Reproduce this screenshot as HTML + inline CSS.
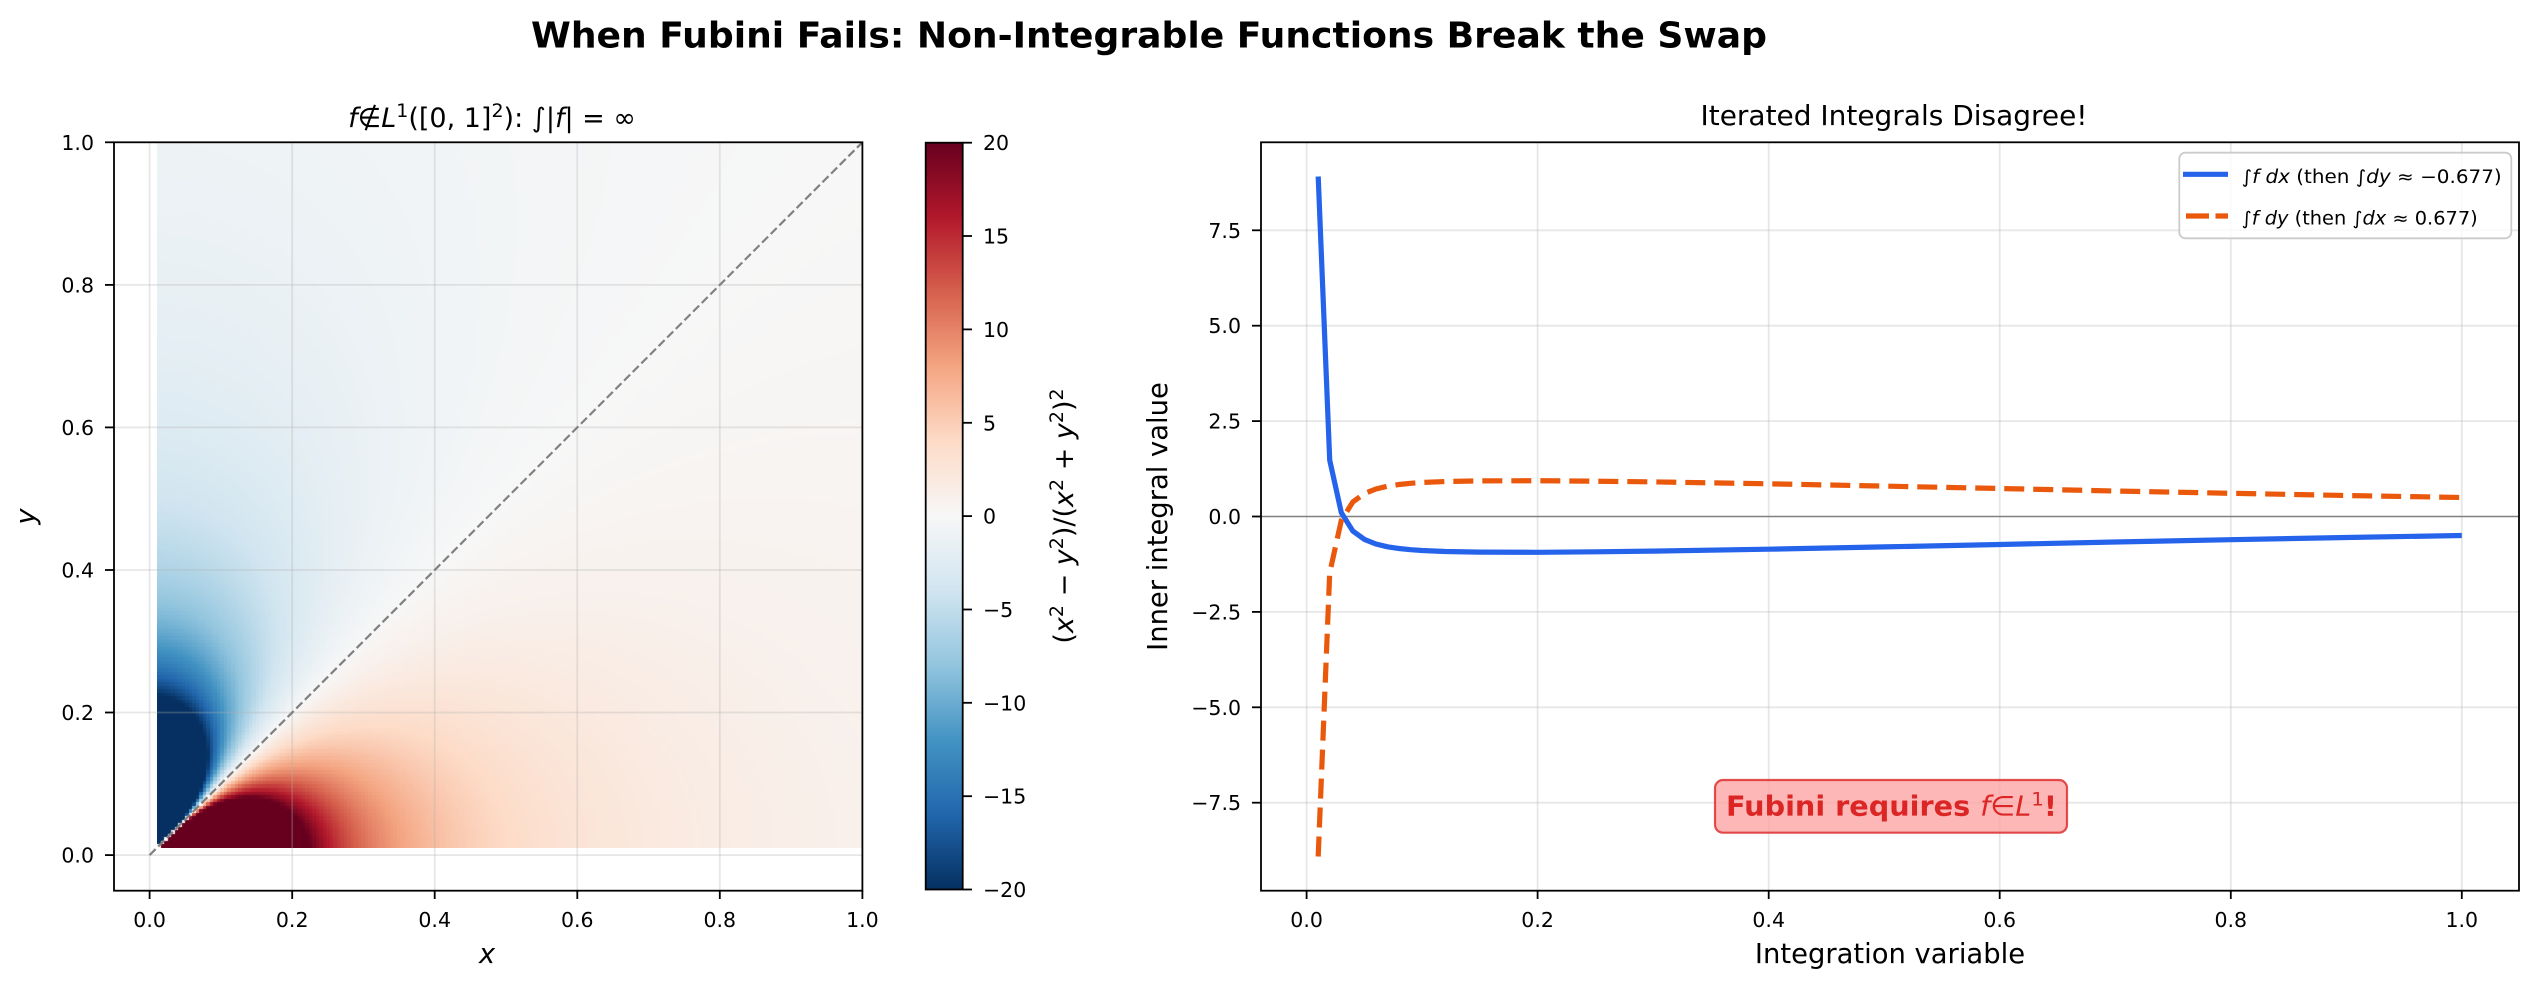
<!DOCTYPE html>
<html>
<head>
<meta charset="utf-8">
<style>
  html,body{margin:0;padding:0;background:#fff;}
  #wrap{position:relative;width:2540px;height:990px;overflow:hidden;background:#fff;}
  #hm{position:absolute;left:157px;top:142px;width:705px;height:706px;}
  svg{position:absolute;left:0;top:0;}
  text{font-family:"DejaVu Sans","Liberation Sans",sans-serif;fill:#000;}
</style>
</head>
<body>
<div id="wrap">
<canvas id="hm" width="705" height="706"></canvas>
<svg width="2540" height="990" viewBox="0 0 2540 990" xmlns="http://www.w3.org/2000/svg">
  <defs>
    <linearGradient id="cb" x1="0" y1="0" x2="0" y2="1">
      <stop offset="0" stop-color="#67001f"/>
      <stop offset="0.1" stop-color="#b2182b"/>
      <stop offset="0.2" stop-color="#d6604d"/>
      <stop offset="0.3" stop-color="#f4a582"/>
      <stop offset="0.4" stop-color="#fddbc7"/>
      <stop offset="0.5" stop-color="#f7f7f7"/>
      <stop offset="0.6" stop-color="#d1e5f0"/>
      <stop offset="0.7" stop-color="#92c5de"/>
      <stop offset="0.8" stop-color="#4393c3"/>
      <stop offset="0.9" stop-color="#2166ac"/>
      <stop offset="1" stop-color="#053061"/>
    </linearGradient>
  </defs>

  <!-- Suptitle -->
  <text x="1149" y="47.5" text-anchor="middle" font-size="35.5" font-weight="bold" textLength="1236" lengthAdjust="spacingAndGlyphs">When Fubini Fails: Non-Integrable Functions Break the Swap</text>

  <!-- ================= LEFT PLOT ================= -->
  <g stroke="#b0b0b0" stroke-opacity="0.3" stroke-width="1.8">
    <line x1="149.6" y1="142.3" x2="149.6" y2="890.7"/>
    <line x1="292.2" y1="142.3" x2="292.2" y2="890.7"/>
    <line x1="434.7" y1="142.3" x2="434.7" y2="890.7"/>
    <line x1="577.3" y1="142.3" x2="577.3" y2="890.7"/>
    <line x1="719.8" y1="142.3" x2="719.8" y2="890.7"/>
    <line x1="114" y1="855.1" x2="862.4" y2="855.1"/>
    <line x1="114" y1="712.5" x2="862.4" y2="712.5"/>
    <line x1="114" y1="570.0" x2="862.4" y2="570.0"/>
    <line x1="114" y1="427.4" x2="862.4" y2="427.4"/>
    <line x1="114" y1="284.9" x2="862.4" y2="284.9"/>
  </g>
  <line x1="149.6" y1="855.1" x2="862.4" y2="142.3" stroke="#808080" stroke-width="2.2" stroke-dasharray="8.5 3.7"/>
  <rect x="114" y="142.3" width="748.4" height="748.4" fill="none" stroke="#000" stroke-width="1.8"/>
  <!-- left ticks -->
  <g stroke="#000" stroke-width="1.8">
    <line x1="149.6" y1="890.7" x2="149.6" y2="899"/>
    <line x1="292.2" y1="890.7" x2="292.2" y2="899"/>
    <line x1="434.7" y1="890.7" x2="434.7" y2="899"/>
    <line x1="577.3" y1="890.7" x2="577.3" y2="899"/>
    <line x1="719.8" y1="890.7" x2="719.8" y2="899"/>
    <line x1="862.4" y1="890.7" x2="862.4" y2="899"/>
    <line x1="105" y1="855.1" x2="114" y2="855.1"/>
    <line x1="105" y1="712.5" x2="114" y2="712.5"/>
    <line x1="105" y1="570.0" x2="114" y2="570.0"/>
    <line x1="105" y1="427.4" x2="114" y2="427.4"/>
    <line x1="105" y1="284.9" x2="114" y2="284.9"/>
    <line x1="105" y1="142.3" x2="114" y2="142.3"/>
  </g>
  <g font-size="20.5" text-anchor="middle">
    <text x="149.6" y="927">0.0</text>
    <text x="292.2" y="927">0.2</text>
    <text x="434.7" y="927">0.4</text>
    <text x="577.3" y="927">0.6</text>
    <text x="719.8" y="927">0.8</text>
    <text x="862.4" y="927">1.0</text>
  </g>
  <g font-size="20.5" text-anchor="end">
    <text x="94" y="862.6">0.0</text>
    <text x="94" y="720">0.2</text>
    <text x="94" y="577.5">0.4</text>
    <text x="94" y="434.9">0.6</text>
    <text x="94" y="292.4">0.8</text>
    <text x="94" y="149.8">1.0</text>
  </g>
  <text x="487" y="963" text-anchor="middle" font-size="27.4" font-style="italic">x</text>
  <text transform="translate(35,516.5) rotate(-90)" text-anchor="middle" font-size="27.4" font-style="italic">y</text>
  <text x="492" y="127" text-anchor="middle" font-size="27"><tspan font-style="italic">f</tspan><tspan>∉</tspan><tspan font-style="italic">L</tspan><tspan dy="-10" font-size="19">1</tspan><tspan dy="10">([0, 1]</tspan><tspan dy="-10" font-size="19">2</tspan><tspan dy="10">): ∫|</tspan><tspan font-style="italic">f</tspan><tspan>| = ∞</tspan></text>

  <!-- ================= COLORBAR ================= -->
  <rect x="925.7" y="142.7" width="37" height="746.8" fill="url(#cb)" stroke="#000" stroke-width="1.8"/>
  <g stroke="#000" stroke-width="1.8">
    <line x1="962.7" y1="142.7" x2="972" y2="142.7"/>
    <line x1="962.7" y1="236.0" x2="972" y2="236.0"/>
    <line x1="962.7" y1="329.4" x2="972" y2="329.4"/>
    <line x1="962.7" y1="422.8" x2="972" y2="422.8"/>
    <line x1="962.7" y1="516.1" x2="972" y2="516.1"/>
    <line x1="962.7" y1="609.5" x2="972" y2="609.5"/>
    <line x1="962.7" y1="702.8" x2="972" y2="702.8"/>
    <line x1="962.7" y1="796.2" x2="972" y2="796.2"/>
    <line x1="962.7" y1="889.5" x2="972" y2="889.5"/>
  </g>
  <g font-size="20.5">
    <text x="983" y="150.2">20</text>
    <text x="983" y="243.5">15</text>
    <text x="983" y="336.9">10</text>
    <text x="983" y="430.3">5</text>
    <text x="983" y="523.6">0</text>
    <text x="983" y="617">−5</text>
    <text x="983" y="710.3">−10</text>
    <text x="983" y="803.7">−15</text>
    <text x="983" y="897">−20</text>
  </g>
  <text transform="translate(1073,516) rotate(-90)" text-anchor="middle" font-size="27">(<tspan font-style="italic">x</tspan><tspan dy="-10" font-size="19">2</tspan><tspan dy="10"> − </tspan><tspan font-style="italic">y</tspan><tspan dy="-10" font-size="19">2</tspan><tspan dy="10">)/(</tspan><tspan font-style="italic">x</tspan><tspan dy="-10" font-size="19">2</tspan><tspan dy="10"> + </tspan><tspan font-style="italic">y</tspan><tspan dy="-10" font-size="19">2</tspan><tspan dy="10">)</tspan><tspan dy="-10" font-size="19">2</tspan></text>

  <!-- ================= RIGHT PLOT ================= -->
  <g stroke="#b0b0b0" stroke-opacity="0.3" stroke-width="1.8">
    <line x1="1306.6" y1="142.3" x2="1306.6" y2="890.7"/>
    <line x1="1537.6" y1="142.3" x2="1537.6" y2="890.7"/>
    <line x1="1768.7" y1="142.3" x2="1768.7" y2="890.7"/>
    <line x1="1999.7" y1="142.3" x2="1999.7" y2="890.7"/>
    <line x1="2230.8" y1="142.3" x2="2230.8" y2="890.7"/>
    <line x1="2461.8" y1="142.3" x2="2461.8" y2="890.7"/>
    <line x1="1261" y1="230.3" x2="2519" y2="230.3"/>
    <line x1="1261" y1="325.7" x2="2519" y2="325.7"/>
    <line x1="1261" y1="421.1" x2="2519" y2="421.1"/>
    <line x1="1261" y1="611.9" x2="2519" y2="611.9"/>
    <line x1="1261" y1="707.3" x2="2519" y2="707.3"/>
    <line x1="1261" y1="802.7" x2="2519" y2="802.7"/>
  </g>
  <line x1="1261" y1="516.5" x2="2519" y2="516.5" stroke="#808080" stroke-width="1.6"/>

  <polyline fill="none" stroke="#2563eb" stroke-width="5.2" stroke-linejoin="round"
    points="1318.2,176.5 1329.7,460.1 1341.3,512.6 1352.8,531.0 1364.4,539.4 1375.9,544.0 1387.5,546.8 1399.0,548.5 1410.6,549.7 1422.1,550.5 1445.2,551.5 1479.9,552.1 1537.6,552.3 1595.4,551.8 1653.2,551.1 1768.7,549.2 1884.2,546.9 1999.7,544.5 2115.2,542.0 2230.8,539.7 2346.3,537.5 2461.8,535.5"/>
  <polyline fill="none" stroke="#ea580c" stroke-width="5.2" stroke-dasharray="20 9" stroke-linejoin="round"
    points="1318.2,856.5 1329.7,572.9 1341.3,520.4 1352.8,502.0 1364.4,493.6 1375.9,489.0 1387.5,486.2 1399.0,484.5 1410.6,483.3 1422.1,482.5 1445.2,481.5 1479.9,480.9 1537.6,480.7 1595.4,481.2 1653.2,481.9 1768.7,483.8 1884.2,486.1 1999.7,488.5 2115.2,491.0 2230.8,493.3 2346.3,495.5 2461.8,497.5"/>

  <rect x="1261" y="142.3" width="1258" height="748.4" fill="none" stroke="#000" stroke-width="1.8"/>
  <g stroke="#000" stroke-width="1.8">
    <line x1="1306.6" y1="890.7" x2="1306.6" y2="899"/>
    <line x1="1537.6" y1="890.7" x2="1537.6" y2="899"/>
    <line x1="1768.7" y1="890.7" x2="1768.7" y2="899"/>
    <line x1="1999.7" y1="890.7" x2="1999.7" y2="899"/>
    <line x1="2230.8" y1="890.7" x2="2230.8" y2="899"/>
    <line x1="2461.8" y1="890.7" x2="2461.8" y2="899"/>
    <line x1="1252" y1="230.3" x2="1261" y2="230.3"/>
    <line x1="1252" y1="325.7" x2="1261" y2="325.7"/>
    <line x1="1252" y1="421.1" x2="1261" y2="421.1"/>
    <line x1="1252" y1="516.5" x2="1261" y2="516.5"/>
    <line x1="1252" y1="611.9" x2="1261" y2="611.9"/>
    <line x1="1252" y1="707.3" x2="1261" y2="707.3"/>
    <line x1="1252" y1="802.7" x2="1261" y2="802.7"/>
  </g>
  <g font-size="20.5" text-anchor="middle">
    <text x="1306.6" y="927">0.0</text>
    <text x="1537.6" y="927">0.2</text>
    <text x="1768.7" y="927">0.4</text>
    <text x="1999.7" y="927">0.6</text>
    <text x="2230.8" y="927">0.8</text>
    <text x="2461.8" y="927">1.0</text>
  </g>
  <g font-size="20.5" text-anchor="end">
    <text x="1241" y="237.8">7.5</text>
    <text x="1241" y="333.2">5.0</text>
    <text x="1241" y="428.6">2.5</text>
    <text x="1241" y="524">0.0</text>
    <text x="1241" y="619.4">−2.5</text>
    <text x="1241" y="714.8">−5.0</text>
    <text x="1241" y="810.2">−7.5</text>
  </g>
  <text x="1890" y="963" text-anchor="middle" font-size="27.4">Integration variable</text>
  <text transform="translate(1167,516.5) rotate(-90)" text-anchor="middle" font-size="27.4">Inner integral value</text>
  <text x="1894" y="125" text-anchor="middle" font-size="27.5" textLength="387" lengthAdjust="spacingAndGlyphs">Iterated Integrals Disagree!</text>

  <!-- Legend -->
  <rect x="2179.3" y="152.7" width="332" height="85.6" rx="6" ry="6" fill="#ffffff" fill-opacity="0.8" stroke="#cccccc" stroke-width="1.8"/>
  <line x1="2183" y1="174.3" x2="2228" y2="174.3" stroke="#2563eb" stroke-width="5.2"/>
  <line x1="2186" y1="216" x2="2228" y2="216" stroke="#ea580c" stroke-width="5.2" stroke-dasharray="23 6.5"/>
  <text x="2241.7" y="183" font-size="18.2" textLength="260" lengthAdjust="spacingAndGlyphs">∫<tspan font-style="italic">f dx</tspan> (then ∫<tspan font-style="italic">dy</tspan> ≈ −0.677)</text>
  <text x="2241.7" y="224.3" font-size="18.2" textLength="236" lengthAdjust="spacingAndGlyphs">∫<tspan font-style="italic">f dy</tspan> (then ∫<tspan font-style="italic">dx</tspan> ≈ 0.677)</text>

  <!-- Annotation -->
  <rect x="1715" y="780" width="352" height="52.7" rx="8" ry="8" fill="#fca5a5" fill-opacity="0.8" stroke="#dc2626" stroke-opacity="0.8" stroke-width="2.2"/>
  <text x="1726" y="815.7" font-size="27.4" style="fill:#dc2626" textLength="331" lengthAdjust="spacingAndGlyphs"><tspan font-weight="bold">Fubini requires </tspan><tspan font-style="italic">f</tspan><tspan>∈</tspan><tspan font-style="italic">L</tspan><tspan dy="-10" font-size="19">1</tspan><tspan dy="10" font-weight="bold">!</tspan></text>
</svg>
</div>
<script>
(function(){
  var cv=document.getElementById('hm');
  var W=705,H=706;
  var ctx=cv.getContext('2d');
  var img=ctx.createImageData(W,H);
  var d=img.data;
  var st=[[5,48,97],[33,102,172],[67,147,195],[146,197,222],[209,229,240],[247,247,247],[253,219,199],[244,165,130],[214,96,77],[178,24,43],[103,0,31]];
  var N=200, step=0.99/199;
  for(var py=0;py<H;py++){
    var j=Math.floor((1-(py+0.5)/H)*N); if(j<0)j=0; if(j>N-1)j=N-1;
    var yv=0.01+j*step, y2=yv*yv;
    for(var px=0;px<W;px++){
      var i=Math.floor((px+0.5)/W*N); if(i<0)i=0; if(i>N-1)i=N-1;
      var xv=0.01+i*step, x2=xv*xv;
      var s=x2+y2;
      var f=(x2-y2)/(s*s);
      var t=(f+20)/40; if(t<0)t=0; if(t>1)t=1;
      var p=t*10, k=Math.floor(p); if(k>9)k=9; var fr=p-k;
      var a=st[k], b=st[k+1];
      var o=(py*W+px)*4;
      d[o]=a[0]+(b[0]-a[0])*fr;
      d[o+1]=a[1]+(b[1]-a[1])*fr;
      d[o+2]=a[2]+(b[2]-a[2])*fr;
      d[o+3]=255;
    }
  }
  ctx.putImageData(img,0,0);
})();
</script>
</body>
</html>
